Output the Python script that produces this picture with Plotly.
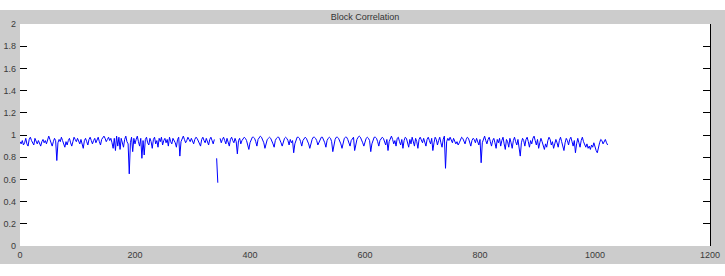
import plotly.graph_objects as go

# Block correlation values, one per two blocks (block index 0..1022)
row00 = [0.94,0.92,0.95,0.91,0.93,0.97,0.92,0.90,0.96,0.98,0.95,0.93,0.91,0.97,0.94,0.92,0.95,0.93,0.90,0.94,0.96,0.93,0.95,0.92,0.97,0.99,0.96,0.93,0.90,0.94,0.97,0.95]
row01 = [0.77,0.93,0.96,0.94,0.98,0.95,0.92,0.89,0.94,0.91,0.95,0.97,0.93,0.90,0.94,0.98,0.96,0.94,0.97,0.95,0.92,0.96,0.93,0.88,0.95,0.97,0.94,0.91,0.96,0.98,0.95,0.92]
row02 = [0.95,0.97,0.93,0.96,0.98,0.94,0.91,0.96,0.98,0.99,0.97,0.94,0.96,0.98,0.95,0.97,0.93,0.88,0.97,0.86,0.99,0.90,0.98,0.87,0.97,0.93,0.89,0.96,0.99,0.94,0.92,0.65]
row03 = [0.93,0.98,0.85,0.97,0.92,0.96,0.99,0.94,0.90,0.97,0.79,0.95,0.82,0.96,0.98,0.93,0.91,0.97,0.94,0.88,0.96,0.98,0.92,0.95,0.89,0.97,0.94,0.98,0.91,0.95,0.97,0.93]
row04 = [0.96,0.90,0.98,0.94,0.92,0.97,0.95,0.93,0.89,0.96,0.98,0.81,0.94,0.97,0.99,0.96,0.93,0.95,0.98,0.96,0.94,0.97,0.95,0.92,0.96,0.98,0.97,0.95,0.93,0.90,0.96,0.98]
row05 = [0.95,0.93,0.97,0.94,0.91,0.96,0.98,0.95,0.92,0.96,None,0.79,0.57,None,0.97,0.93,0.96,0.98,0.95,0.92,0.97,0.94,0.90,0.96,0.98,0.95,0.93,0.97,0.94,0.83,0.95,0.97]
row06 = [0.92,0.95,0.97,0.98,0.97,0.95,0.91,0.87,0.93,0.96,0.98,0.98,0.97,0.94,0.90,0.96,0.98,0.99,0.98,0.96,0.93,0.88,0.92,0.96,0.97,0.98,0.97,0.95,0.92,0.89,0.95,0.97]
row07 = [0.98,0.98,0.96,0.93,0.90,0.94,0.97,0.98,0.97,0.95,0.91,0.96,0.93,0.95,0.84,0.92,0.96,0.98,0.98,0.97,0.94,0.90,0.95,0.97,0.98,0.97,0.95,0.92,0.88,0.93,0.96,0.98]
row08 = [0.98,0.97,0.95,0.91,0.94,0.97,0.98,0.98,0.96,0.93,0.89,0.95,0.97,0.98,0.97,0.94,0.85,0.91,0.96,0.98,0.98,0.97,0.95,0.92,0.88,0.94,0.97,0.98,0.98,0.96,0.93,0.90]
row09 = [0.95,0.97,0.98,0.86,0.93,0.96,0.98,0.99,0.98,0.96,0.93,0.90,0.94,0.97,0.98,0.97,0.95,0.85,0.92,0.96,0.98,0.98,0.97,0.94,0.90,0.95,0.97,0.98,0.97,0.94,0.91,0.96]
row10 = [0.86,0.94,0.97,0.99,0.96,0.92,0.95,0.90,0.97,0.98,0.94,0.91,0.96,0.88,0.95,0.98,0.97,0.93,0.89,0.96,0.92,0.98,0.95,0.90,0.97,0.94,0.88,0.96,0.98,0.95,0.93,0.97]
row11 = [0.94,0.90,0.96,0.98,0.95,0.92,0.97,0.86,0.93,0.98,0.96,0.91,0.95,0.98,0.93,0.89,0.96,0.99,0.70,0.94,0.97,0.95,0.98,0.96,0.93,0.97,0.95,0.92,0.94,0.91,0.93,0.96]
row12 = [0.98,0.97,0.95,0.92,0.96,0.98,0.97,0.94,0.90,0.95,0.97,0.96,0.93,0.97,0.94,0.91,0.96,0.75,0.93,0.97,0.99,0.95,0.92,0.96,0.98,0.94,0.90,0.95,0.97,0.93,0.88,0.96]
row13 = [0.93,0.97,0.90,0.95,0.98,0.92,0.87,0.96,0.94,0.89,0.97,0.93,0.88,0.95,0.98,0.94,0.91,0.96,0.86,0.81,0.93,0.97,0.95,0.90,0.96,0.98,0.94,0.89,0.95,0.92,0.97,0.99]
row14 = [0.95,0.91,0.96,0.88,0.93,0.97,0.94,0.90,0.87,0.92,0.89,0.95,0.98,0.96,0.91,0.94,0.88,0.92,0.96,0.93,0.89,0.95,0.98,0.94,0.90,0.86,0.93,0.97,0.95,0.91,0.96,0.98]
row15 = [0.94,0.90,0.95,0.84,0.92,0.97,0.93,0.89,0.95,0.98,0.94,0.91,0.89,0.92,0.88,0.90,0.87,0.91,0.89,0.93,0.88,0.86,0.84,0.90,0.93,0.96,0.95,0.92,0.94,0.96,0.93,0.91]

correlation = (row00 + row01 + row02 + row03 + row04 + row05 + row06 + row07 +
               row08 + row09 + row10 + row11 + row12 + row13 + row14 + row15)
block_index = list(range(0, 2 * len(correlation), 2))

title_text = "Block Correlation"
x_ticks = [0, 200, 400, 600, 800, 1000, 1200]
y_ticks = [0, 0.2, 0.4, 0.6, 0.8, 1, 1.2, 1.4, 1.6, 1.8, 2]
y_tick_text = ["0", "0.2", "0.4", "0.6", "0.8", "1", "1.2", "1.4", "1.6", "1.8", "2"]

GRAY = "#cccccc"
TXT = "#3a3a3a"
FONT = "Liberation Sans, Arial, sans-serif"

fig = go.Figure()
fig.add_trace(go.Scatter(x=block_index, y=correlation, mode="lines",
                         line=dict(color="#0000ff", width=1),
                         connectgaps=False, showlegend=False, hoverinfo="skip"))
# invisible trace on right y axis to show mirrored ticks
fig.add_trace(go.Scatter(x=[None], y=[None], yaxis="y2", showlegend=False))

W, H = 725, 276
L, R, T, B = 20, 15, 24, 30
pw, ph = W - L - R, H - T - B

def px_x(x):
    return (x - L) / pw

def px_y(y):
    return (H - B - y) / ph

fig.update_layout(
    width=W, height=H,
    margin=dict(l=L, r=R, t=T, b=B, pad=0, autoexpand=False),
    paper_bgcolor=GRAY, plot_bgcolor="white",
    font=dict(family=FONT, size=9, color=TXT),
    title=dict(text=title_text, x=0.5, xref="paper", xanchor="center",
               y=1 - 17 / H, yanchor="middle",
               font=dict(family=FONT, size=9, color="#333333")),
    xaxis=dict(range=[0, 1200], tickvals=x_ticks, ticks="", showgrid=False,
               zeroline=False, showline=False, tickfont=dict(size=9, color=TXT),
               ticklabelstandoff=2, automargin=False),
    yaxis=dict(range=[0, 2], tickvals=y_ticks, ticktext=y_tick_text, ticks="inside",
               ticklen=7, tickcolor="#000000", tickwidth=1, showgrid=False,
               zeroline=False, showline=False, tickfont=dict(size=9, color=TXT),
               ticklabelstandoff=3, automargin=False),
    yaxis2=dict(range=[0, 2], tickvals=y_ticks, overlaying="y", side="right",
                ticks="inside", ticklen=7, tickcolor="#000000", tickwidth=1,
                showticklabels=False, showgrid=False, zeroline=False,
                showline=True, linecolor="#000000", linewidth=1, automargin=False),
    shapes=[
        dict(type="rect", xref="paper", yref="paper", layer="below",
             x0=px_x(-5), x1=px_x(W + 5), y0=px_y(10), y1=px_y(-5),
             fillcolor="white", line=dict(width=0)),
        dict(type="rect", xref="paper", yref="paper", layer="below",
             x0=px_x(-5), x1=px_x(W + 5), y0=px_y(H + 5), y1=px_y(264),
             fillcolor="white", line=dict(width=0)),
    ],
)

fig.write_html("out.html")
